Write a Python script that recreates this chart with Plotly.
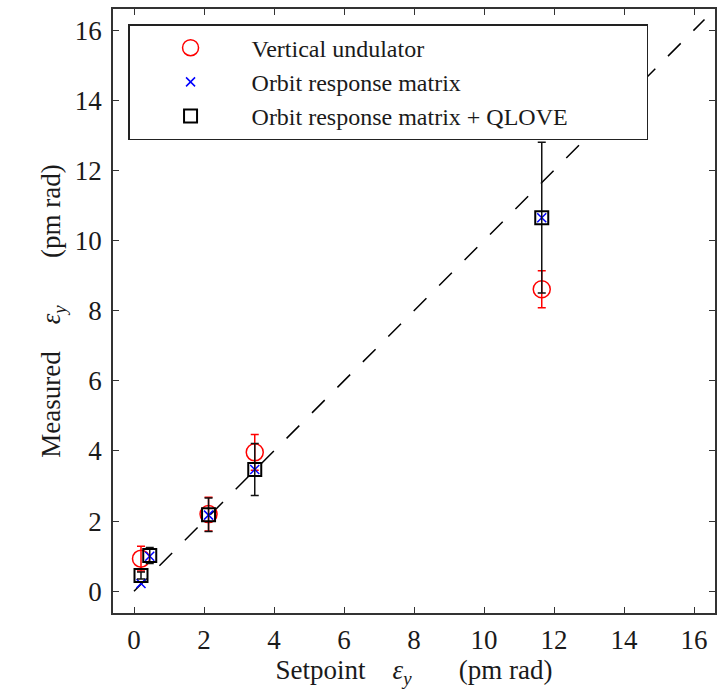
import plotly.graph_objects as go

# Setpoint vertical emittance (pm rad) and measured values for each method
setpoint = [0.2, 0.45, 2.13, 3.45, 11.65]

undulator = [0.93, None, 2.2, 3.96, 8.61]
undulator_err = [0.35, None, 0.48, 0.51, 0.53]

orm = [0.22, 1.0, 2.17, 3.47, 10.65]

orm_qlove = [0.45, 1.02, 2.18, 3.47, 10.65]
orm_qlove_err = [0.1, 0.23, 0.48, 0.74, 2.15]

ticks = [0, 2, 4, 6, 8, 10, 12, 14, 16]
diag = [0, 16.3]

FONT = "Liberation Serif"
TXT = "#1a1a1a"
NB = "\u00a0"

fig = go.Figure()

# y = x reference line
fig.add_trace(go.Scatter(
    x=diag, y=diag, mode="lines", showlegend=False, hoverinfo="skip",
    line=dict(color="black", width=1.5, dash="18px,18px"),
))

fig.add_trace(go.Scatter(
    x=setpoint, y=undulator, mode="markers", name="Vertical undulator",
    marker=dict(symbol="circle-open", size=17, color="red", line=dict(width=1.5, color="red")),
    error_y=dict(type="data", array=undulator_err, color="red", thickness=1.5, width=4),
))

fig.add_trace(go.Scatter(
    x=setpoint, y=orm, mode="markers", name="Orbit response matrix",
    marker=dict(symbol="x-thin-open", size=9, color="blue", line=dict(width=1.5, color="blue")),
))

fig.add_trace(go.Scatter(
    x=setpoint, y=orm_qlove, mode="markers", name="Orbit response matrix + QLOVE",
    marker=dict(symbol="square-open", size=13, color="black", line=dict(width=2, color="black")),
    error_y=dict(type="data", array=orm_qlove_err, color="#111", thickness=1.5, width=4),
))

axis_common = dict(
    showline=True, linecolor="#333", linewidth=1.5, mirror="ticks",
    ticks="inside", ticklen=6, tickwidth=1.2, tickcolor="#333",
    showgrid=False, zeroline=False,
    tickvals=ticks, ticktext=[str(t) for t in ticks],
    tickfont=dict(family=FONT, size=27, color=TXT),
)

eps = "<i>ε</i><sub><i>y</i></sub>"

fig.update_layout(
    width=724, height=690,
    margin=dict(l=113, r=7, t=8, b=77),
    paper_bgcolor="white", plot_bgcolor="white",
    xaxis=dict(
        range=[-0.6, 16.6],
        title=dict(text=f"Setpoint{NB*3} {eps}{NB*6} (pm rad)",
                   font=dict(family=FONT, size=27, color=TXT), standoff=0),
        ticklabelstandoff=2,
        **axis_common,
    ),
    yaxis=dict(
        range=[-0.62, 16.6],
        title=dict(text=f"Measured{NB*3} {eps}{NB*6} (pm rad)",
                   font=dict(family=FONT, size=27, color=TXT), standoff=6),
        ticklabelstandoff=4,
        **axis_common,
    ),
    legend=dict(
        x=0.025, y=0.975, xanchor="left", yanchor="top",
        orientation="h", entrywidth=390,
        bgcolor="white", bordercolor="#222", borderwidth=1.5,
        font=dict(family=FONT, size=24, color=TXT),
        itemwidth=112, tracegroupgap=0,
    ),
)

fig.write_html("out.html")
